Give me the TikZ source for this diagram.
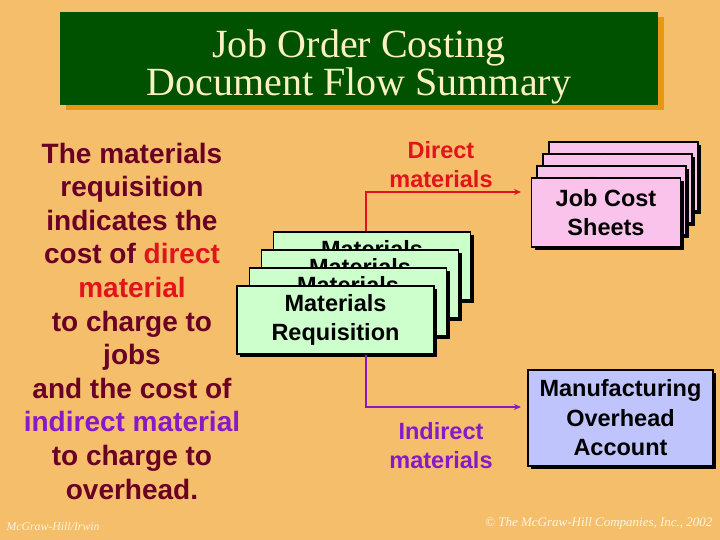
\documentclass[tikz,border=0pt]{standalone}
\usepackage{xcolor}
\usepackage{fontspec}
\setmainfont{Liberation Sans}
\newfontfamily\titlefont{Liberation Serif}
\usepackage{tikz}
\usetikzlibrary{positioning,arrows.meta,shadows}
\definecolor{bgOrange}{RGB}{244,190,106}
\definecolor{titleGreen}{RGB}{0,82,0}
\definecolor{titleShadow}{RGB}{232,150,20}
\definecolor{titleText}{RGB}{250,240,195}
\definecolor{textMaroon}{RGB}{106,0,36}
\definecolor{dmRed}{RGB}{225,20,30}
\definecolor{imPurple}{RGB}{135,25,200}
\definecolor{reqGreen}{RGB}{204,255,204}
\definecolor{jobPink}{RGB}{250,195,235}
\definecolor{ohBlue}{RGB}{192,196,252}
\definecolor{footCream}{RGB}{255,245,222}

\begin{document}
\begin{tikzpicture}[x=1pt,y=-1pt,
  box/.style={draw=black,line width=1.1pt,align=center,font=\fontsize{23.5}{29.5}\selectfont\bfseries,
    drop shadow={shadow xshift=3pt,shadow yshift=-3pt,fill=black,opacity=1},
    append after command={\pgfextra{\draw[white,line width=0.8pt]
      ([shift={(1.5pt,1.5pt)}]\tikzlastnode.south west) rectangle ([shift={(-1.5pt,-1.5pt)}]\tikzlastnode.north east);}}},
  req/.style={box,fill=reqGreen,minimum width=197pt,minimum height=68pt},
  job/.style={box,fill=jobPink,minimum width=149pt,minimum height=69pt},
  oh/.style={box,fill=ohBlue,minimum width=185pt,minimum height=96pt},
  lbl/.style={align=center,font=\fontsize{23.5}{29}\selectfont\bfseries},
  dmArrow/.style={-{Stealth[length=7pt,width=6pt]},dmRed,line width=1.5pt},
  imArrow/.style={-{Stealth[length=7pt,width=6pt]},imPurple,line width=1.5pt}]
\fill[bgOrange] (0,0) rectangle (720,540);
\useasboundingbox (0,0) rectangle (720,540);
% title
\node[fill=titleGreen,minimum width=598pt,minimum height=93pt,
  drop shadow={shadow xshift=6pt,shadow yshift=-5pt,fill=titleShadow,opacity=1}]
  (titleBox) at (359,59) {};
\node[text=titleText,align=center,font=\titlefont\fontsize{40}{38}\selectfont] (title) at (359,67)
  {Job Order Costing\\Document Flow Summary};
% explanation
\node[text=textMaroon,align=center,font=\fontsize{28}{33.6}\selectfont\bfseries] (note) at (132,321)
  {The materials\\requisition\\indicates the\\cost of \textcolor{dmRed}{direct}\\\textcolor{dmRed}{material}\\to charge to\\jobs\\and the cost of\\\textcolor{imPurple}{indirect material}\\to charge to\\overhead.};
% materials requisitions
\node[req] (req4) at (372,266) {Materials\\Requisition};
\node[req] (req3) at (360,284) {Materials\\Requisition};
\node[req] (req2) at (348,302) {Materials\\Requisition};
\node[req] (req1) at (335.5,320) {Materials\\Requisition};
% job cost sheets
\node[job] (job4) at (623.5,176.5) {Job Cost\\Sheets};
\node[job] (job3) at (617.5,188.5) {Job Cost\\Sheets};
\node[job] (job2) at (611.5,200.5) {Job Cost\\Sheets};
\node[job] (job1) at (606,212.5) {Job Cost\\Sheets};
% overhead
\node[oh] (oh) at (620.5,418) {Manufacturing\\Overhead\\Account};
% flows
\coordinate (dmTip) at (521,192);
\coordinate (imTip) at (521,407);
\draw[dmArrow] ([xshift=-6pt]req4.north) |- (dmTip);
\draw[imArrow] ([xshift=30.5pt]req1.south) |- (imTip);
\node[lbl,text=dmRed] (dmLabel) at (441,165) {Direct\\materials};
\node[lbl,text=imPurple] (imLabel) at (441,446) {Indirect\\materials};
% footer
\node[anchor=west,text=footCream,font=\titlefont\itshape\fontsize{11.8}{14}\selectfont] (pub) at (3,526) {McGraw-Hill/Irwin};
\node[anchor=east,text=footCream,font=\titlefont\itshape\fontsize{13}{15}\selectfont] (copy) at (716,523) {\textcopyright{} The McGraw-Hill Companies, Inc., 2002};
\end{tikzpicture}
\end{document}
